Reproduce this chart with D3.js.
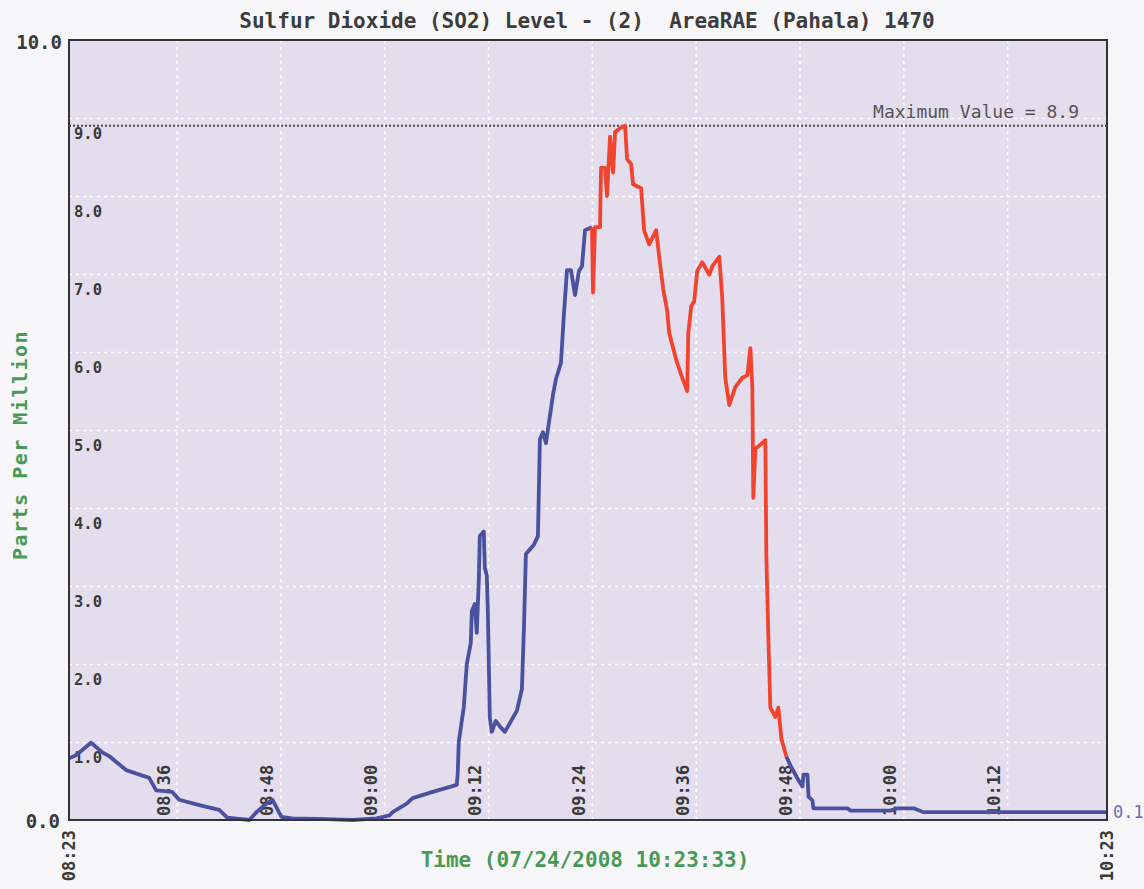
<!DOCTYPE html>
<html>
<head>
<meta charset="utf-8">
<script src="https://cdn.jsdelivr.net/npm/d3@7"></script>
<style>
  body { margin: 0; background: #f7f6f9; }
  text { font-family: "DejaVu Sans Mono", "Liberation Mono", monospace; white-space: pre; }
</style>
</head>
<body>
<div id="so2-chart"></div>
<script>
// minutes elapsed since 08:23:33 and the reading (ppm) at that moment
var elapsedMin = [0, 0.81, 2.55, 3.82, 4.63, 6.60, 9.27, 10.08, 11.93, 12.74, 15.06, 17.37, 18.30, 20.85,
  21.66, 22.82, 23.51, 24.56, 25.83, 29.77, 32.78, 35.56, 37.07, 37.41, 39.04, 39.73, 42.05, 44.83,
  44.94, 45.06, 45.64, 45.99, 46.45, 46.57, 46.91, 47.14, 47.38, 47.49, 47.95, 48.07, 48.30, 48.42,
  48.65, 48.88, 49.34, 49.81, 50.39, 50.85, 51.78, 52.36, 52.59, 52.82, 53.75, 54.21, 54.44, 54.79,
  55.14, 55.37, 55.95, 56.29, 56.87, 57.22, 57.57, 58.03, 58.50, 58.96, 59.31, 59.65, 60.46,
  60.58, 60.81, 61.39, 61.51, 61.97, 62.20, 62.55, 62.90, 63.13, 63.71, 64.29, 64.52, 64.98, 65.21,
  66.14, 66.49, 67.07, 67.88, 68.23, 68.69, 69.15, 69.39, 70.20, 70.89, 71.47, 71.59, 71.94, 72.28,
  72.63, 73.21, 74.02, 74.37, 75.18, 75.52, 75.87, 76.33, 77.03, 77.84, 78.42, 78.77, 79.00, 79.11,
  79.35, 79.92, 80.50, 80.62, 80.85, 81.08, 81.66, 82.01, 82.36, 82.94,
  83.40, 84.33, 84.79, 84.91, 85.37, 85.49, 85.95, 86.06, 90.00, 90.35, 94.98, 95.79, 97.65, 98.81, 120.00];

var ppm = [0.79, 0.83, 0.99, 0.87, 0.82, 0.64, 0.54, 0.38, 0.36, 0.26, 0.19, 0.13, 0.03, 0.0,
  0.10, 0.21, 0.26, 0.04, 0.02, 0.01, 0.0, 0.02, 0.06, 0.10, 0.21, 0.28, 0.36, 0.45,
  0.60, 1.00, 1.45, 2.00, 2.27, 2.68, 2.77, 2.40, 3.09, 3.64, 3.70, 3.23, 3.14, 2.68,
  1.31, 1.13, 1.27, 1.20, 1.13, 1.22, 1.40, 1.68, 2.45, 3.41, 3.53, 3.64, 4.88, 4.97,
  4.83, 5.01, 5.45, 5.65, 5.86, 6.49, 7.05, 7.05, 6.73, 7.04, 7.10, 7.56, 7.60,
  6.76, 7.60, 7.60, 8.36, 8.36, 8.00, 8.76, 8.30, 8.82, 8.87, 8.90, 8.47, 8.41, 8.15,
  8.10, 7.56, 7.38, 7.56, 7.22, 6.81, 6.53, 6.24, 5.90, 5.67, 5.50, 6.24, 6.59, 6.65,
  7.04, 7.15, 6.99, 7.10, 7.22, 6.69, 5.67, 5.32, 5.55, 5.67, 5.70, 6.05, 5.55, 4.13,
  4.76, 4.81, 4.87, 3.38, 2.35, 1.44, 1.32, 1.44, 1.04, 0.81,
  0.70, 0.51, 0.43, 0.58, 0.58, 0.30, 0.25, 0.15, 0.15, 0.12, 0.12, 0.15, 0.15, 0.10, 0.10];

// 1 = reading drawn in alarm colour
var alarm = [0, 0, 0, 0, 0, 0, 0, 0, 0, 0, 0, 0, 0, 0,
  0, 0, 0, 0, 0, 0, 0, 0, 0, 0, 0, 0, 0, 0,
  0, 0, 0, 0, 0, 0, 0, 0, 0, 0, 0, 0, 0, 0,
  0, 0, 0, 0, 0, 0, 0, 0, 0, 0, 0, 0, 0, 0,
  0, 0, 0, 0, 0, 0, 0, 0, 0, 0, 0, 0, 0,
  1, 1, 1, 1, 1, 1, 1, 1, 1, 1, 1, 1, 1, 1,
  1, 1, 1, 1, 1, 1, 1, 1, 1, 1, 1, 1, 1, 1,
  1, 1, 1, 1, 1, 1, 1, 1, 1, 1, 1, 1, 1, 1,
  1, 1, 1, 1, 1, 1, 1, 1, 1, 1,
  0, 0, 0, 0, 0, 0, 0, 0, 0, 0, 0, 0, 0, 0, 0];

var yTicks = [1, 2, 3, 4, 5, 6, 7, 8, 9];
var maxValue = 8.9;
var lastValue = 0.1;
var startTime = new Date(2008, 6, 24, 8, 23, 33);
var endTime = new Date(2008, 6, 24, 10, 23, 33);
var titleText = "Sulfur Dioxide (SO2) Level - (2)  AreaRAE (Pahala) 1470";
var xTitle = "Time (07/24/2008 10:23:33)";
var yTitle = "Parts Per Million";

var margin = {top: 40, right: 37, bottom: 69, left: 69},
    width = 1144 - margin.left - margin.right,
    height = 889 - margin.top - margin.bottom;

var svgRoot = d3.select("#so2-chart")
  .append("svg")
    .attr("width", 1144)
    .attr("height", 889);

svgRoot.append("rect")
    .attr("width", 1144).attr("height", 889)
    .attr("fill", "#f7f6f9");

var svg = svgRoot.append("g")
    .attr("transform", "translate(" + margin.left + "," + margin.top + ")");

var x = d3.scaleTime()
    .domain([startTime, endTime])
    .range([0, width]);

var y = d3.scaleLinear()
    .domain([0, 10])
    .range([height, 0]);

var fmt = d3.timeFormat("%H:%M");

var data = elapsedMin.map(function(m, i) {
  return {time: new Date(startTime.getTime() + m * 60000), value: ppm[i], alarm: alarm[i]};
});

// plot background
svg.append("rect")
    .attr("width", width)
    .attr("height", height)
    .attr("fill", "#e4ddee");

// grid every 12 minutes, skip one too close to the left edge
var timeTicks = x.ticks(d3.timeMinute.every(12)).filter(function(t) {
  return t - startTime > 5 * 60000 && endTime - t > 5 * 60000;
});

svg.append("g")
    .attr("transform", "translate(0," + height + ")")
    .call(d3.axisBottom(x).tickValues(timeTicks).tickSize(-height).tickFormat(""))
    .call(function(g) {
      g.select(".domain").remove();
      g.selectAll("line")
        .attr("stroke", "#ffffff")
        .attr("stroke-width", 1.6)
        .attr("stroke-dasharray", "3,4");
    });

svg.append("g")
    .call(d3.axisLeft(y).tickValues(yTicks).tickSize(-width).tickFormat(""))
    .call(function(g) {
      g.select(".domain").remove();
      g.selectAll("line")
        .attr("stroke", "#ffffff")
        .attr("stroke-width", 1.6)
        .attr("stroke-dasharray", "3,4");
    });

// maximum value line
svg.append("line")
    .attr("x1", 0).attr("x2", width)
    .attr("y1", y(maxValue)).attr("y2", y(maxValue))
    .attr("stroke", "#4a4540")
    .attr("stroke-width", 2)
    .attr("stroke-dasharray", "2,2");

svg.append("text")
    .attr("x", width - 28)
    .attr("y", y(maxValue) - 8)
    .attr("text-anchor", "end")
    .style("font-size", "18px")
    .attr("fill", "#555")
    .text("Maximum Value = " + maxValue.toFixed(1));

// y tick labels inside the plot, just under each grid line
svg.selectAll(".ylab")
    .data(yTicks)
  .enter().append("text")
    .attr("class", "ylab")
    .attr("x", 5)
    .attr("y", function(d) { return y(d) + 21; })
    .style("font-size", "15.5px")
    .attr("font-weight", 700)
    .attr("fill", "#3a3a3a")
    .text(function(d) { return d.toFixed(1); });

svg.append("text")
    .attr("x", -7).attr("y", y(10) + 9)
    .attr("text-anchor", "end")
    .style("font-size", "19px")
    .attr("font-weight", 700)
    .attr("fill", "#3a3a3a")
    .text("10.0");

svg.append("text")
    .attr("x", -9).attr("y", y(0) + 8)
    .attr("text-anchor", "end")
    .style("font-size", "19px")
    .attr("font-weight", 700)
    .attr("fill", "#3a3a3a")
    .text("0.0");

// rotated time labels
svg.selectAll(".xlab")
    .data(timeTicks)
  .enter().append("text")
    .attr("class", "xlab")
    .attr("transform", function(d) { return "translate(" + (x(d) - 13) + "," + (height - 4) + ") rotate(-90)"; })
    .attr("dy", "0.35em")
    .style("font-size", "17px")
    .attr("font-weight", 700)
    .attr("fill", "#3a3a3a")
    .text(function(d) { return fmt(d); });

[startTime, endTime].forEach(function(t) {
  svg.append("text")
      .attr("transform", "translate(" + x(t) + "," + (height + 10) + ") rotate(-90)")
      .attr("dy", "0.35em")
      .attr("text-anchor", "end")
      .style("font-size", "17px")
      .attr("font-weight", 700)
      .attr("fill", "#3a3a3a")
      .text(fmt(t));
});

// trace, split into runs by alarm state
var line = d3.line()
    .x(function(d) { return x(d.time); })
    .y(function(d) { return y(d.value); });

var runs = [];
data.forEach(function(d, i) {
  if (i === 0 || d.alarm !== data[i - 1].alarm) {
    runs.push({alarm: d.alarm, pts: i > 0 ? [data[i - 1]] : []});
  }
  runs[runs.length - 1].pts.push(d);
});

svg.selectAll(".trace")
    .data(runs)
  .enter().append("path")
    .attr("class", "trace")
    .attr("d", function(r) { return line(r.pts); })
    .attr("fill", "none")
    .attr("stroke", function(r) { return r.alarm ? "#f0442f" : "#4a52a0"; })
    .attr("stroke-width", 3.8)
    .attr("stroke-linejoin", "round");

// frame
svg.append("rect")
    .attr("width", width)
    .attr("height", height)
    .attr("fill", "none")
    .attr("stroke", "#333")
    .attr("stroke-width", 2);

svg.append("text")
    .attr("x", width + 6)
    .attr("y", y(lastValue) + 6)
    .style("font-size", "17px")
    .attr("fill", "#6a70b2")
    .text(lastValue.toFixed(1));

// titles
svgRoot.append("text")
    .attr("x", 587).attr("y", 28)
    .attr("text-anchor", "middle")
    .attr("font-weight", 700)
    .style("font-size", "21px")
    .attr("fill", "#3c3c3c")
    .text(titleText);

svgRoot.append("text")
    .attr("x", 585).attr("y", 867)
    .attr("text-anchor", "middle")
    .attr("font-weight", 700)
    .style("font-size", "21px")
    .attr("fill", "#4a9a56")
    .text(xTitle);

svgRoot.append("text")
    .attr("transform", "translate(20,445) rotate(-90)")
    .attr("dy", "0.35em")
    .attr("text-anchor", "middle")
    .attr("font-weight", 700)
    .style("font-size", "20px")
    .style("letter-spacing", "1.5px")
    .attr("fill", "#4a9a56")
    .text(yTitle);
</script>
</body>
</html>
